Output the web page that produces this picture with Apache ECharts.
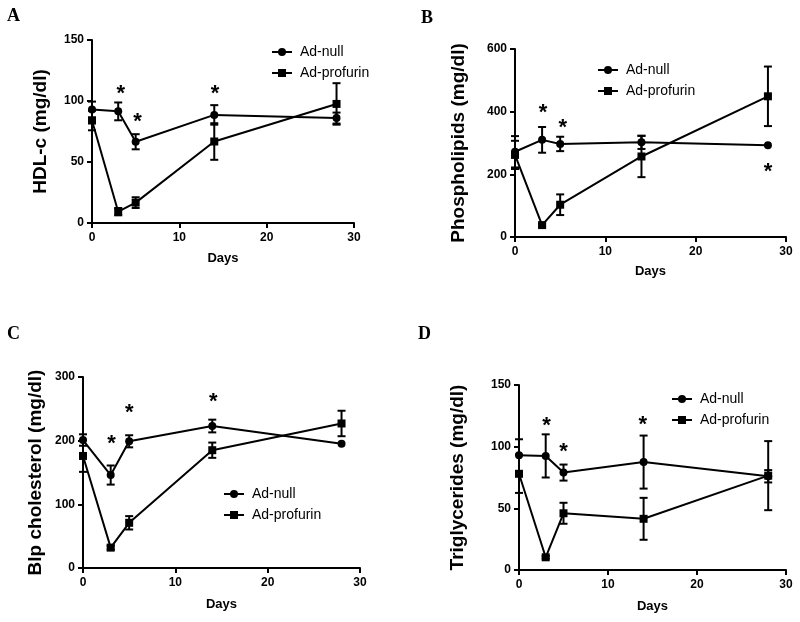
<!DOCTYPE html>
<html><head><meta charset="utf-8">
<script src="https://cdn.jsdelivr.net/npm/echarts@6/dist/echarts.min.js"></script>
<style>html,body{margin:0;padding:0;background:#fff}#c{width:800px;height:622px}</style>
</head><body><div id="c"></div>
<script>
// ---- data ----
const days = [0, 3, 5, 14, 28];
const xTicks = [0, 10, 20, 30];

// Panel A: HDL-c
const hdlNull = [93, 91.5, 66.6, 88.6, 86];
const hdlNullErr = [6.5, 7.3, 6.2, 8, 4.5];
const hdlPro = [84, 9.3, 16.7, 66.8, 97.6];
const hdlProErr = [8, 3, 4.4, 15, 17];
const hdlStars = [[3.3, 109.6], [5.2, 87], [14.1, 109.6]];

// Panel B: Phospholipids
const plNull = [272, 310, 297, 302, 293];
const plNullErr = [50, 41, 23, 21, 0];
const plPro = [262, 38, 103, 257, 449];
const plProErr = [45, 5, 33, 66, 95];
const plStars = [[3.1, 411], [5.3, 363], [28, 224]];

// Panel C: Blp cholesterol
const blpNull = [201, 146, 199, 223, 195];
const blpNullErr = [9, 15, 9.5, 10, 0];
const blpPro = [176, 32, 71, 185, 227];
const blpProErr = [25, 3, 10.5, 12, 20];
const blpStars = [[3.1, 202], [5.0, 252], [14.1, 268]];

// Panel D: Triglycerides
const tgNull = [93, 92.5, 79, 87.5, 76];
const tgNullErr = [13, 17.5, 6.5, 21.5, 5];
const tgPro = [78, 10.3, 46, 41.5, 76.5];
const tgProErr = [15.5, 1, 8.5, 17, 28];
const tgStars = [[3.1, 121], [5.0, 100], [13.9, 121.6]];

const yNames = ['HDL-c (mg/dl)', 'Phospholipids (mg/dl)', 'Blp cholesterol (mg/dl)', 'Triglycerides (mg/dl)'];
const yMax = [150, 600, 300, 150];
const yInt = [50, 200, 100, 50];
const letters = ['A', 'B', 'C', 'D'];

// ---- layout ----
const grids = [
  {left: 92, top: 40, width: 262, height: 183},
  {left: 515, top: 49, width: 271, height: 188},
  {left: 83, top: 377, width: 277, height: 191},
  {left: 519, top: 385, width: 267, height: 185}
];
const yNameGap = [42, 47, 38, 52];
const xNameGap = [29, 28, 30, 30];
const legendPos = [{left: 271, top: 45}, {left: 597, top: 63}, {left: 223, top: 487}, {left: 671, top: 392}];
const letterPos = [[7, 16], [421, 18], [7, 334], [418, 334]];

const FONT = '"Liberation Sans", Arial, sans-serif';
const panels = [
  [hdlNull, hdlNullErr, hdlPro, hdlProErr, hdlStars],
  [plNull, plNullErr, plPro, plProErr, plStars],
  [blpNull, blpNullErr, blpPro, blpProErr, blpStars],
  [tgNull, tgNullErr, tgPro, tgProErr, tgStars]
];

function errRender(params, api) {
  const x = api.value(0), y = api.value(1), e = api.value(2);
  if (!e) return null;
  const t = api.coord([x, y + e]), b = api.coord([x, y - e]);
  const w = 4, st = {stroke: '#000', lineWidth: 2};
  return {type: 'group', children: [
    {type: 'line', shape: {x1: t[0], y1: t[1], x2: b[0], y2: b[1]}, style: st},
    {type: 'line', shape: {x1: t[0] - w, y1: t[1], x2: t[0] + w, y2: t[1]}, style: st},
    {type: 'line', shape: {x1: b[0] - w, y1: b[1], x2: b[0] + w, y2: b[1]}, style: st}
  ]};
}
function starRender(params, api) {
  const p = api.coord([api.value(0), api.value(1)]);
  return {type: 'text', x: p[0], y: p[1] + 5, style: {text: '*', font: 'bold 22px ' + FONT, fill: '#000', align: 'center', verticalAlign: 'middle'}};
}

const xAxis = [], yAxis = [], series = [], legend = [], graphic = [];
panels.forEach((pd, i) => {
  const axLine = {lineStyle: {color: '#000', width: 2}};
  xAxis.push({gridIndex: i, type: 'value', min: 0, max: 30, interval: 10,
    name: 'Days', nameLocation: 'middle', nameGap: xNameGap[i],
    nameTextStyle: {fontFamily: FONT, fontWeight: 'bold', fontSize: 13, color: '#000'},
    axisLine: axLine, axisTick: {show: true, length: 5, lineStyle: {color: '#000', width: 2}},
    axisLabel: {margin: 9, fontFamily: FONT, fontWeight: 'bold', fontSize: 12, color: '#000'},
    splitLine: {show: false}});
  yAxis.push({gridIndex: i, type: 'value', min: 0, max: yMax[i], interval: yInt[i],
    name: yNames[i], nameLocation: 'middle', nameGap: yNameGap[i],
    nameTextStyle: {fontFamily: FONT, fontWeight: 'bold', fontSize: 19, color: '#000'},
    axisLine: {show: true, lineStyle: {color: '#000', width: 2}},
    axisTick: {show: true, length: 5, lineStyle: {color: '#000', width: 2}},
    axisLabel: {margin: 8, fontFamily: FONT, fontWeight: 'bold', fontSize: 12, color: '#000'},
    splitLine: {show: false}});
  const [nv, ne, pv, pe, stars] = pd;
  series.push({type: 'line', name: 'Ad-null', xAxisIndex: i, yAxisIndex: i,
    data: days.map((d, k) => [d, nv[k]]), symbol: 'circle', symbolSize: 8,
    lineStyle: {color: '#000', width: 2}, itemStyle: {color: '#000'}, z: 3});
  series.push({type: 'line', name: 'Ad-profurin', xAxisIndex: i, yAxisIndex: i,
    data: days.map((d, k) => [d, pv[k]]), symbol: 'rect', symbolSize: 8,
    lineStyle: {color: '#000', width: 2}, itemStyle: {color: '#000'}, z: 3});
  series.push({type: 'custom', xAxisIndex: i, yAxisIndex: i, renderItem: errRender,
    data: days.map((d, k) => [d, nv[k], ne[k]]), encode: {x: 0, y: 1}, z: 4, silent: true});
  series.push({type: 'custom', xAxisIndex: i, yAxisIndex: i, renderItem: errRender,
    data: days.map((d, k) => [d, pv[k], pe[k]]), encode: {x: 0, y: 1}, z: 4, silent: true});
  series.push({type: 'custom', xAxisIndex: i, yAxisIndex: i, renderItem: starRender,
    data: stars, encode: {x: 0, y: 1}, z: 5, silent: true});
  legend.push(Object.assign({orient: 'vertical', data: ['Ad-null', 'Ad-profurin'],
    padding: 0, itemWidth: 20, itemHeight: 10, itemGap: 7, selectedMode: false,
    textStyle: {fontFamily: FONT, fontSize: 14, color: '#000', padding: [0, 0, 0, 3]}}, legendPos[i]));
  graphic.push({type: 'text', left: letterPos[i][0], top: letterPos[i][1] - 9,
    style: {text: letters[i], font: 'bold 18px "Liberation Serif", "Times New Roman", serif', fill: '#000'}});
});

const chart = echarts.init(document.getElementById('c'), null, {renderer: 'canvas'});
chart.setOption({animation: false, backgroundColor: '#fff', grid: grids, xAxis, yAxis, series, legend, graphic});
</script></body></html>
